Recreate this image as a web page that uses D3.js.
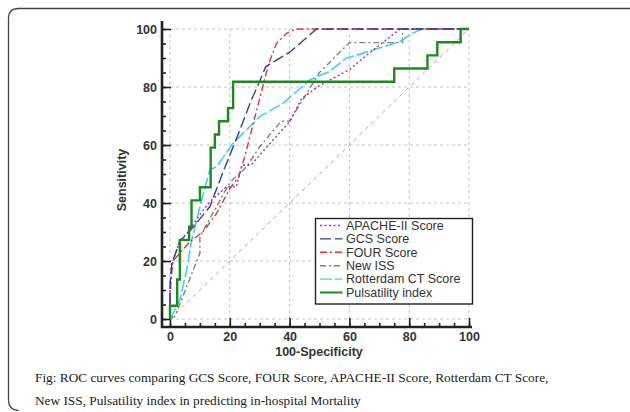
<!DOCTYPE html>
<html><head><meta charset="utf-8">
<script src="https://cdn.jsdelivr.net/npm/d3@7/dist/d3.min.js"></script>
<style>
body{margin:0;background:#fff;}
svg{display:block;}
</style></head>
<body>
<svg id="chart" width="630" height="412"></svg>
<script>
// ---- data (100-Specificity, Sensitivity) ----
const apacheX = [0, 0, 0.6, 3.3, 6, 10, 13.3, 18.9, 22.2, 24, 27, 33, 40, 44, 50, 60, 67, 77, 100];
const apacheY = [0, 10, 18.6, 27, 30, 36, 40.4, 45.6, 45.6, 53, 53, 60, 68, 76, 80.5, 86, 92, 100, 100];
const gcsX = [0, 0, 0.6, 3.3, 8, 13.3, 17.5, 23.3, 27, 30, 32, 40, 44, 49, 100];
const gcsY = [0, 12, 19.2, 26.7, 32, 38.7, 50, 65, 75, 82, 87, 92, 95.5, 100, 100];
const fourX = [0, 0, 0.3, 1, 3.3, 6.7, 11, 15.6, 20, 23, 25, 28, 31, 33, 35.6, 39, 42, 100];
const fourY = [0, 5, 13, 20, 22.7, 26.7, 30, 36.4, 45, 49, 56, 68, 80, 88, 95, 98.5, 100, 100];
const issX = [0, 1.7, 10, 10, 20, 25.6, 30, 37.2, 40, 50, 60, 77.8, 77.8, 100];
const issY = [0, 1, 22.7, 28.4, 47, 52.5, 59.4, 68.2, 68.2, 85, 95.3, 95.3, 100, 100];
const rotX = [0, 0.6, 3.3, 5.6, 7.2, 10, 13.3, 15.6, 21.1, 30, 38, 46.7, 53.3, 58.9, 64.4, 76.7, 81, 84.4, 100];
const rotY = [0, 1, 6.5, 17, 27, 38.7, 51.4, 52.5, 60.6, 69.8, 74.5, 82.4, 85.3, 89.9, 91.6, 95.6, 98.5, 100, 100];
// Pulsatility index: step curve (vertical at x, then horizontal)
const pulsX = [0, 2.4, 3.3, 6.4, 7.2, 10, 13.6, 15, 16.4, 19.4, 21.1, 75, 86.1, 89.4, 97.2, 100];
const pulsY = [0, 4.55, 13.64, 27.27, 31.82, 40.91, 45.45, 59.09, 63.64, 68.18, 72.73, 81.82, 86.36, 90.91, 95.45, 100];

const seriesNames = ["APACHE-II Score", "GCS Score", "FOUR Score", "New ISS", "Rotterdam CT Score", "Pulsatility index"];
const majorTicks = [0, 20, 40, 60, 80, 100];
const minorTicks = d3.range(0, 101, 5);
const xTitle = "100-Specificity";
const yTitle = "Sensitivity";
const caption = ["Fig: ROC curves comparing GCS Score, FOUR Score, APACHE-II Score, Rotterdam CT Score,",
                 "New ISS, Pulsatility index in predicting in-hospital Mortality"];

// ---- styles ----
const styles = [
  {color: "#a030b8", dash: "2,2.5", width: 1.4},
  {color: "#3a3a9a", dash: "11,4", width: 1.4},
  {color: "#e03535", dash: "7,3,2,3", width: 1.4},
  {color: "#808080", dash: "6,3,2,3", width: 1.4},
  {color: "#3fd0f2", dash: "12,3", width: 1.6},
  {color: "#1d8a1d", dash: null, width: 2.4}
];

const svg = d3.select("#chart");
const x = d3.scaleLinear().domain([0, 100]).range([170, 469]);
const y = d3.scaleLinear().domain([0, 100]).range([319, 29]);

// outer frame
svg.append("path")
  .attr("d", "M630,8.5 H18.5 Q8.5,8.5 8.5,18.5 V400 Q8.5,410 18.5,410.5")
  .attr("fill", "none").attr("stroke", "#444").attr("stroke-width", 1.3);

// grid
const grid = svg.append("g").attr("stroke", "#c4c4c4").attr("stroke-width", 1).attr("stroke-dasharray", "3,3");
majorTicks.forEach(t => {
  grid.append("line").attr("x1", x(t)).attr("x2", x(t)).attr("y1", y(0)).attr("y2", y(100));
  grid.append("line").attr("x1", x(0)).attr("x2", x(100)).attr("y1", y(t)).attr("y2", y(t));
});

// diagonal reference
svg.append("line").attr("x1", x(0)).attr("y1", y(0)).attr("x2", x(100)).attr("y2", y(100))
  .attr("stroke", "#a8a8a8").attr("stroke-width", 1).attr("stroke-dasharray", "4,4");

// axes
const axisX0 = 162, axisY0 = 327;
const yAxisMinor = d3.axisLeft(y).tickValues(minorTicks).tickSize(-4).tickFormat("");
const yAxisMajor = d3.axisLeft(y).tickValues(majorTicks).tickSize(-9).tickPadding(5);
const xAxisMinor = d3.axisBottom(x).tickValues(minorTicks).tickSize(-4).tickFormat("");
const xAxisMajor = d3.axisBottom(x).tickValues(majorTicks).tickSize(-9).tickPadding(5);

function styleAxis(g) {
  g.select(".domain").remove();
  g.selectAll("line").attr("stroke", "#222").attr("stroke-width", 1.6);
  g.selectAll("text").attr("fill", "#333").style("font-family", "Arial, 'Liberation Sans', sans-serif")
    .style("font-size", "12.5px").style("font-weight", "bold");
}
svg.append("g").attr("transform", `translate(${axisX0},0)`).call(yAxisMinor).call(styleAxis);
svg.append("g").attr("transform", `translate(${axisX0},0)`).call(yAxisMajor).call(styleAxis);
svg.append("g").attr("transform", `translate(0,${axisY0})`).call(xAxisMinor).call(styleAxis);
svg.append("g").attr("transform", `translate(0,${axisY0})`).call(xAxisMajor).call(styleAxis);

svg.append("line").attr("x1", axisX0).attr("x2", axisX0).attr("y1", 21).attr("y2", axisY0 + 1)
  .attr("stroke", "#222").attr("stroke-width", 2.6);
svg.append("line").attr("x1", axisX0 - 1).attr("x2", 472).attr("y1", axisY0).attr("y2", axisY0)
  .attr("stroke", "#222").attr("stroke-width", 2.6);

// axis titles
svg.append("text").attr("x", 319).attr("y", 356).attr("text-anchor", "middle")
  .style("font-family", "Arial, 'Liberation Sans', sans-serif").style("font-size", "12.5px")
  .style("font-weight", "bold").attr("fill", "#333").text(xTitle);
svg.append("text").attr("transform", "translate(126,180) rotate(-90)").attr("text-anchor", "middle")
  .style("font-family", "Arial, 'Liberation Sans', sans-serif").style("font-size", "12.5px")
  .style("font-weight", "bold").attr("fill", "#333").text(yTitle);

// curves
const line = d3.line().x(d => x(d[0])).y(d => y(d[1]));
const stepLine = d3.line().x(d => x(d[0])).y(d => y(d[1])).curve(d3.curveStepBefore);
const allX = [apacheX, gcsX, fourX, issX, rotX, pulsX];
const allY = [apacheY, gcsY, fourY, issY, rotY, pulsY];
const drawOrder = [3, 4, 0, 2, 1, 5];
drawOrder.forEach(i => {
  const pts = allX[i].map((v, k) => [v, allY[i][k]]);
  svg.append("path").attr("d", i === 5 ? stepLine(pts) : line(pts))
    .attr("fill", "none").attr("stroke", styles[i].color).attr("stroke-width", styles[i].width)
    .attr("stroke-dasharray", styles[i].dash).attr("stroke-linejoin", "miter");
});

// legend
const lg = svg.append("g");
lg.append("rect").attr("x", 315.5).attr("y", 218.5).attr("width", 157).attr("height", 85.5)
  .attr("fill", "#fff").attr("stroke", "#222").attr("stroke-width", 1.4);
seriesNames.forEach((name, i) => {
  const cy = 225.5 + i * 13.4;
  lg.append("line").attr("x1", 320).attr("x2", 342.5).attr("y1", cy).attr("y2", cy)
    .attr("stroke", styles[i].color).attr("stroke-width", i === 5 ? 2 : 1.4)
    .attr("stroke-dasharray", styles[i].dash);
  lg.append("text").attr("x", 346).attr("y", cy + 4.3).text(name)
    .style("font-family", "Arial, 'Liberation Sans', sans-serif").style("font-size", "12.5px")
    .attr("fill", "#333");
});

// caption
caption.forEach((c, i) => {
  svg.append("text").attr("x", 35).attr("y", 382 + i * 22.5).text(c)
    .style("font-family", "'Liberation Serif', 'Times New Roman', serif").style("font-size", "13.3px")
    .attr("fill", "#222");
});
</script>
</body></html>
